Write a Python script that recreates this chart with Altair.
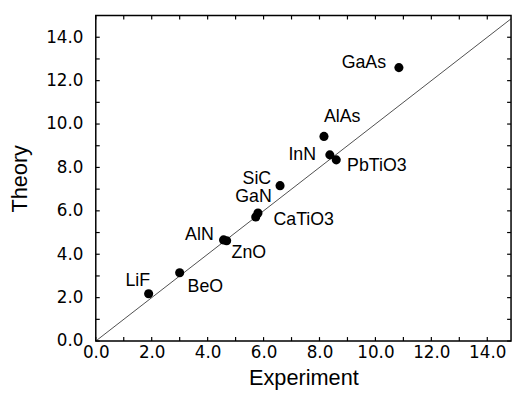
import altair as alt
import pandas as pd

materials = ["LiF", "BeO", "AlN", "ZnO", "GaN", "CaTiO3", "SiC", "AlAs", "InN", "PbTiO3", "GaAs"]
experiment = [1.89, 3.0, 4.57, 4.68, 5.8, 5.72, 6.59, 8.16, 8.37, 8.6, 10.84]
theory = [2.18, 3.15, 4.66, 4.62, 5.9, 5.72, 7.16, 9.43, 8.58, 8.35, 12.6]

tick_values = [float(v) for v in range(0, 15)]
label_values = [0, 2, 4, 6, 8, 10, 12, 14]
diag = [0.0, 14.85]

XMAX = 14.85
YMAX = 15.0
W, H = 421, 330
FONT = "Liberation Sans"
TICKFONT = "DejaVu Sans"

df = pd.DataFrame({"material": materials, "experiment": experiment, "theory": theory})
ticks = pd.DataFrame({"v": tick_values})
diag_df = pd.DataFrame({"x": diag, "y": diag})

xs = alt.Scale(domain=[0, XMAX], nice=False, zero=False)
ys = alt.Scale(domain=[0, YMAX], nice=False, zero=False)

xaxis = alt.Axis(values=label_values, format=".1f", grid=False, ticks=False, domain=False,
                 labelFlush=False, labelOverlap=False,
                 labelFont=TICKFONT, labelFontSize=17, labelColor="black", labelPadding=4,
                 title="Experiment", titleFont=FONT, titleFontSize=22, titleFontWeight="normal",
                 titleColor="black", titleY=37, titleBaseline="middle")
yaxis = alt.Axis(values=label_values, format=".1f", grid=False, ticks=False, domain=False,
                 labelFlush=False, labelOverlap=False,
                 labelFont=TICKFONT, labelFontSize=17, labelColor="black", labelPadding=13,
                 title="Theory", titleFont=FONT, titleFontSize=22, titleFontWeight="normal",
                 titleColor="black", titleX=-77, titleY=H / 2, titleAlign="center",
                 titleBaseline="middle", titleAngle=270)

line = alt.Chart(diag_df).mark_line(color="black", strokeWidth=0.7, clip=True).encode(
    x=alt.X("x:Q", scale=xs, axis=xaxis),
    y=alt.Y("y:Q", scale=ys, axis=yaxis),
)

points = alt.Chart(df).mark_circle(color="black", opacity=1, size=85).encode(
    x=alt.X("experiment:Q", scale=xs),
    y=alt.Y("theory:Q", scale=ys),
)

TL = 4
tick_layers = [
    alt.Chart(ticks).mark_rule(color="black", strokeWidth=1.2).encode(
        x=alt.X("v:Q", scale=xs), y=alt.value(H), y2=alt.value(H - TL)),
    alt.Chart(ticks).mark_rule(color="black", strokeWidth=1.2).encode(
        x=alt.X("v:Q", scale=xs), y=alt.value(0), y2=alt.value(TL)),
    alt.Chart(ticks).mark_rule(color="black", strokeWidth=1.2).encode(
        y=alt.Y("v:Q", scale=ys), x=alt.value(0), x2=alt.value(TL)),
    alt.Chart(ticks).mark_rule(color="black", strokeWidth=1.2).encode(
        y=alt.Y("v:Q", scale=ys), x=alt.value(W), x2=alt.value(W - TL)),
]

# label placement style: (align, dx, dy)
label_style = {
    "LiF": ("center", -11, -13),
    "BeO": ("left", 8, 15),
    "AlN": ("right", -10, -5),
    "ZnO": ("left", 5, 12),
    "GaN": ("right", 14, -16),
    "CaTiO3": ("left", 18, 3),
    "SiC": ("right", -9, -7),
    "AlAs": ("left", 0, -20),
    "InN": ("right", -14, 0),
    "PbTiO3": ("left", 11, 6),
    "GaAs": ("right", -13, -5),
}

text_layers = []
for m in materials:
    align, dx, dy = label_style[m]
    text_layers.append(
        alt.Chart(df).transform_filter(alt.datum.material == m).mark_text(
            font=FONT, fontSize=18, color="black", align=align, baseline="middle", dx=dx, dy=dy
        ).encode(
            x=alt.X("experiment:Q", scale=xs),
            y=alt.Y("theory:Q", scale=ys),
            text="material:N",
        )
    )

chart = alt.layer(line, points, *tick_layers, *text_layers).properties(
    width=W, height=H,
    background="white",
    autosize=alt.AutoSizeParams(type="none"),
    padding={"left": 89, "top": 5, "right": 3, "bottom": 48},
).configure_view(stroke="black", strokeWidth=1.5)

chart.save("out.html", embed_options={"renderer": "svg", "actions": False})
